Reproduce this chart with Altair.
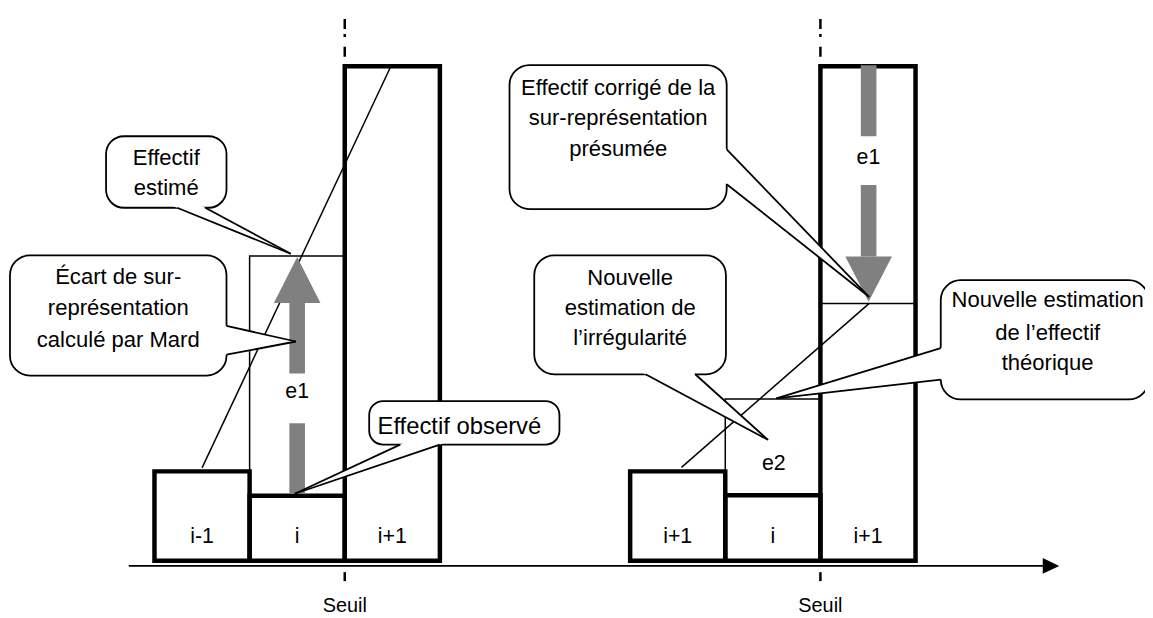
import altair as alt
import pandas as pd

# ------------------------------------------------------------------
# Data (x in bin widths, y in "effectif" units, baseline = 0)
# ------------------------------------------------------------------
left_bins = ["i-1", "i", "i+1"]
left_heights = [9.0, 6.55, 49.8]
right_bins = ["i+1", "i", "i+1"]
right_heights = [9.0, 6.6, 49.8]
panel_start = [0, 5]
seuil_x = [2, 7]

est_left = 30.7          # effectif estimé (bin i, left)
corr_right = 25.9        # effectif corrigé (bin i+1, right)
new_est_right = 16.3     # nouvelle estimation (bin i, right)

diag_x0 = [0.5, 5.54]
diag_y0 = [9.35, 9.4]
diag_x1 = [2.48, 7.51]
diag_y1 = [49.7, 25.9]

# grey arrows: centre x, shaft pieces, head base, head tip
arrow_x = [1.5, 7.507]
arrow_shaft = [[(6.75, 13.85), (18.85, 25.95)], [(42.75, 49.9), (30.65, 37.85)]]
arrow_base = [25.95, 30.65]
arrow_tip = [30.6, 26.08]
shaft_half = 0.082
head_half = 0.245

e_labels = ["e1", "e1", "e2"]
e_x = [1.5, 7.505, 6.51]
e_y = [16.95, 40.6, 9.7]

axis_y = -0.52
axis_x0 = -0.27
axis_x1 = 9.337
axis_tip = 9.511

# callouts: box (x0, x1, y0, y1), pointer base points, tip, text lines
callout_lines = [
    ["Effectif", "estimé"],
    ["Écart de sur-", "représentation", "calculé par Mard"],
    ["Effectif observé"],
    ["Effectif corrigé de la", "sur-représentation", "présumée"],
    ["Nouvelle", "estimation de", "l’irrégularité"],
    ["Nouvelle estimation", "de l’effectif", "théorique"],
]
callout_box = [
    (-0.509, 0.757, 35.55, 42.75),
    (-1.519, 0.757, 18.65, 30.75),
    (2.257, 4.257, 11.7, 16.08),
    (3.732, 6.015, 35.42, 49.92),
    (3.992, 6.007, 18.78, 30.75),
    (8.265, 10.45, 16.25, 28.25),
]
callout_base = [
    [(0.238, 35.55), (0.534, 35.55)],
    [(0.757, 23.65), (0.757, 20.75)],
    [(2.583, 11.7), (2.999, 11.7)],
    [(6.015, 41.42), (6.015, 37.92)],
    [(5.162, 18.78), (5.684, 18.78)],
    [(8.265, 21.42), (8.265, 18.25)],
]
callout_tip = [(1.432, 30.92), (1.487, 22.08), (1.474, 6.75),
               (7.511, 26.58), (6.449, 12.18), (6.537, 16.35)]
callout_text_x = [0.124, -0.381, 3.205, 4.874, 5.0, 9.389]
callout_text_y = [
    [40.55, 37.55],
    [28.55, 25.4, 22.25],
    [13.45],
    [47.58, 44.58, 41.42],
    [28.42, 25.42, 22.45],
    [26.25, 22.92, 19.92],
]
callout_font = [22.2, 22.2, 24, 22.2, 22.2, 22.2]
callout_radius = [18, 20, 14, 20, 20, 20]

# ------------------------------------------------------------------
PXX, PXY = 95.8, 10.0
xs = alt.Scale(domain=[-1.5397, 10.412], nice=False, zero=False)
ys = alt.Scale(domain=[-5.55, 55.45], nice=False, zero=False)
FONT = "Liberation Sans"


def X(f="x"):
    return alt.X(f + ":Q", scale=xs, axis=None)


def Y(f="y"):
    return alt.Y(f + ":Q", scale=ys, axis=None, stack=None)


def tri_rows(pts, gid):
    p = sorted(pts, key=lambda v: v[0])
    (x0, y0), (x1, y1), (x2, y2) = p
    t = (x1 - x0) / (x2 - x0)
    yi = y0 + t * (y2 - y0)
    return [dict(g=gid, x=x0, y=y0, y2=y0),
            dict(g=gid, x=x1, y=y1, y2=yi),
            dict(g=gid, x=x2, y=y2, y2=y2)]


layers = []

# thin reference rectangles / lines
thin = pd.DataFrame([
    dict(x=1, x2=2, y=left_heights[1], y2=est_left),
    dict(x=6, x2=7, y=right_heights[1], y2=new_est_right),
])
layers.append(alt.Chart(thin).mark_rect(fill="white", fillOpacity=0, stroke="black",
                                        strokeWidth=1.5).encode(
    x=X(), x2="x2:Q", y=Y(), y2="y2:Q"))
layers.append(alt.Chart(pd.DataFrame([dict(x=7, x2=8, y=corr_right)])).mark_rule(
    color="black", strokeWidth=1.5).encode(x=X(), x2="x2:Q", y=Y()))

# thick histogram boxes
rows = []
for start, bins, hts in [(panel_start[0], left_bins, left_heights),
                         (panel_start[1], right_bins, right_heights)]:
    for k, (b, h) in enumerate(zip(bins, hts)):
        rows.append(dict(x=start + k, x2=start + k + 1, y=0, y2=h, lab=b,
                         xc=start + k + 0.5, yl=2.42))
boxes = pd.DataFrame(rows)
layers.append(alt.Chart(boxes).mark_rect(fill="white", fillOpacity=0, stroke="black",
                                         strokeWidth=4.5).encode(
    x=X(), x2="x2:Q", y=Y(), y2="y2:Q"))

# diagonal lines
diag = pd.DataFrame(dict(x=diag_x0, y=diag_y0, x2=diag_x1, y2=diag_y1))
layers.append(alt.Chart(diag).mark_rule(color="black", strokeWidth=1.5).encode(
    x=X(), y=Y(), x2="x2:Q", y2="y2:Q"))

# horizontal axis with arrow
layers.append(alt.Chart(pd.DataFrame([dict(x=axis_x0, x2=axis_x1 + 0.02, y=axis_y)])).mark_rule(
    color="black", strokeWidth=1.8).encode(x=X(), x2="x2:Q", y=Y()))
ah = pd.DataFrame(tri_rows([(axis_x1, axis_y - 0.8), (axis_x1, axis_y + 0.8),
                            (axis_tip, axis_y)], "ax"))
layers.append(alt.Chart(ah).mark_area(color="black", orient="vertical").encode(
    x=X(), y=Y(), y2="y2:Q", detail="g:N"))

# seuil markers
sd = pd.DataFrame(dict(x=seuil_x, y=[54.55] * 2, y2=[50.75] * 2))
layers.append(alt.Chart(sd).mark_rule(color="black", strokeWidth=2.5,
                                      strokeDash=[10, 5, 3, 10, 10, 100]).encode(
    x=X(), y=Y(), y2="y2:Q"))
st = pd.DataFrame(dict(x=seuil_x, y=[-1.15] * 2, y2=[-2.05] * 2))
layers.append(alt.Chart(st).mark_rule(color="black", strokeWidth=2.5).encode(
    x=X(), y=Y(), y2="y2:Q"))
sl = pd.DataFrame(dict(x=seuil_x, y=[-4.55] * 2, t=["Seuil"] * 2))
layers.append(alt.Chart(sl).mark_text(font=FONT, fontSize=20, baseline="middle",
                                      align="center", color="black").encode(
    x=X(), y=Y(), text="t:N"))

# grey arrows
shafts = []
heads = []
for i, cx in enumerate(arrow_x):
    for (a, b) in arrow_shaft[i]:
        shafts.append(dict(x=cx - shaft_half, x2=cx + shaft_half, y=a, y2=b))
    heads += tri_rows([(cx - head_half, arrow_base[i]), (cx + head_half, arrow_base[i]),
                       (cx, arrow_tip[i])], "h%d" % i)
layers.append(alt.Chart(pd.DataFrame(shafts)).mark_rect(color="#808080").encode(
    x=X(), x2="x2:Q", y=Y(), y2="y2:Q"))
layers.append(alt.Chart(pd.DataFrame(heads)).mark_area(color="#808080", orient="vertical").encode(
    x=X(), y=Y(), y2="y2:Q", detail="g:N"))

# bin labels and e labels
layers.append(alt.Chart(boxes).mark_text(font=FONT, fontSize=21.5, baseline="middle",
                                         align="center", color="black").encode(
    x=X("xc"), y=Y("yl"), text="lab:N"))
el = pd.DataFrame(dict(x=e_x, y=e_y, t=e_labels))
layers.append(alt.Chart(el).mark_text(font=FONT, fontSize=21.5, baseline="middle",
                                      align="center", color="black").encode(
    x=X(), y=Y(), text="t:N"))

# callouts
for i in range(len(callout_lines)):
    x0, x1, y0, y1 = callout_box[i]
    bdf = pd.DataFrame([dict(x=x0, x2=x1, y=y0, y2=y1)])
    layers.append(alt.Chart(bdf).mark_rect(fill="white", stroke="black", strokeWidth=1.8,
                                           cornerRadius=callout_radius[i]).encode(
        x=X(), x2="x2:Q", y=Y(), y2="y2:Q"))
    tx, ty = callout_tip[i]
    ext = []
    for (ax, ay) in callout_base[i]:
        dxp, dyp = (ax - tx) * PXX, (ay - ty) * PXY
        L = (dxp ** 2 + dyp ** 2) ** 0.5
        k = 5.0 / L
        ext.append((ax + (ax - tx) * k, ay + (ay - ty) * k))
    wd = pd.DataFrame(tri_rows([ext[0], ext[1], (tx, ty)], "w%d" % i))
    layers.append(alt.Chart(wd).mark_area(color="white", orient="vertical").encode(
        x=X(), y=Y(), y2="y2:Q", detail="g:N"))
    wl = pd.DataFrame([dict(x=ax, y=ay, x2=tx, y2=ty) for (ax, ay) in callout_base[i]])
    layers.append(alt.Chart(wl).mark_rule(color="black", strokeWidth=1.8).encode(
        x=X(), y=Y(), x2="x2:Q", y2="y2:Q"))
    tdf = pd.DataFrame(dict(x=[callout_text_x[i]] * len(callout_lines[i]),
                            y=callout_text_y[i], t=callout_lines[i]))
    layers.append(alt.Chart(tdf).mark_text(font=FONT, fontSize=callout_font[i],
                                           baseline="middle", align="center",
                                           color="black").encode(
        x=X(), y=Y(), text="t:N"))

chart = alt.layer(*layers).properties(
    width=1145, height=610, padding=0,
    autosize=alt.AutoSizeParams(type="none"),
).configure_view(strokeWidth=0)

chart.save("out.html", embed_options={"renderer": "svg", "actions": False})
